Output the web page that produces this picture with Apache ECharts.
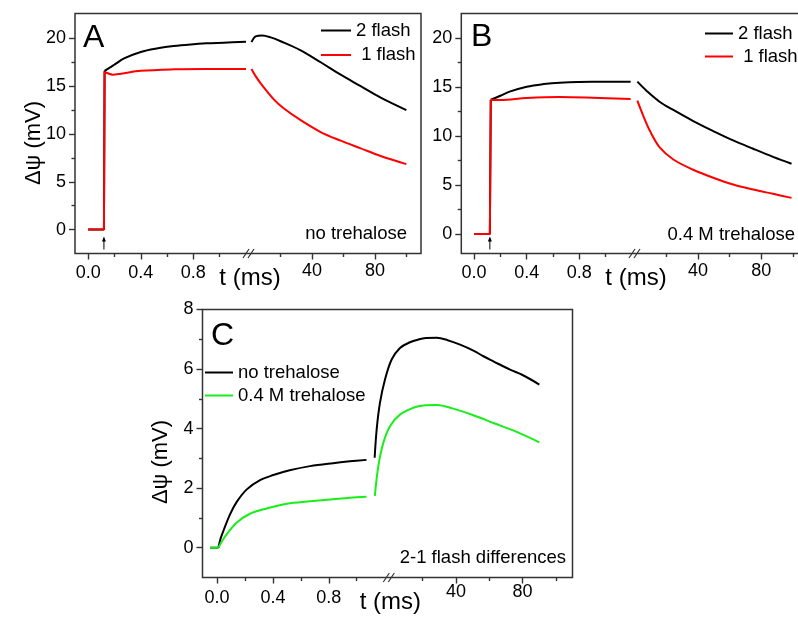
<!DOCTYPE html>
<html><head><meta charset="utf-8">
<script src="https://cdn.jsdelivr.net/npm/echarts@6/dist/echarts.min.js"></script>
<style>html,body{margin:0;padding:0;background:#fff}#c{width:798px;height:618px}</style>
</head><body><div id="c"></div>
<script>
// ---------------- DATA ----------------
// Panel A : no trehalose  (t in ms, Δψ in mV)
const A_t1_2f = [0, 0.12, 0.125, 0.2, 0.273, 0.40, 0.53, 0.65, 0.78, 0.90, 1.03, 1.2];
const A_v1_2f = [0, 0, 16.6, 17.25, 17.9, 18.58, 18.96, 19.2, 19.37, 19.48, 19.55, 19.65];
const A_t1_1f = [0, 0.12, 0.125, 0.15, 0.185, 0.25, 0.40, 0.65, 0.90, 1.2];
const A_v1_1f = [0, 0, 16.5, 16.35, 16.2, 16.3, 16.6, 16.76, 16.8, 16.8];
const A_t2_2f = [1.6, 4.2, 8.5, 13.8, 20.1, 32.8, 45.5, 58.2, 70.9, 83.6, 99.9];
const A_v2_2f = [19.6, 20.2, 20.3, 20.1, 19.7, 18.75, 17.5, 16.2, 15.0, 13.8, 12.5];
const A_t2_1f = [1.6, 4.0, 7.4, 15.9, 22.2, 32.8, 45.5, 58.2, 70.9, 83.6, 99.9];
const A_v2_1f = [16.8, 16.1, 15.3, 13.6, 12.66, 11.44, 10.2, 9.3, 8.5, 7.7, 6.85];

// Panel B : 0.4 M trehalose
const B_t1_2f = [0, 0.12, 0.127, 0.2, 0.27, 0.40, 0.53, 0.65, 0.90, 1.19];
const B_v1_2f = [0, 0, 13.7, 14.1, 14.52, 15.03, 15.3, 15.44, 15.54, 15.54];
const B_t1_1f = [0, 0.12, 0.127, 0.2, 0.40, 0.65, 0.90, 1.19];
const B_v1_1f = [0, 0, 13.67, 13.67, 13.87, 13.97, 13.9, 13.77];
const B_t2_2f = [1.5, 7.4, 15.8, 24.3, 36.9, 49.6, 62.2, 74.9, 87.5, 99.2];
const B_v2_2f = [15.54, 14.6, 13.47, 12.65, 11.52, 10.5, 9.54, 8.69, 7.87, 7.16];
const B_t2_1f = [1.5, 5.3, 9.5, 15.8, 24.3, 36.9, 49.6, 62.2, 74.9, 87.5, 99.2];
const B_v2_1f = [13.6, 12.03, 10.5, 8.8, 7.6, 6.55, 5.73, 5.04, 4.53, 4.09, 3.68];

// Panel C : 2-1 flash differences
const C_t1_no = [-0.05, 0, 0.01, 0.025, 0.045, 0.093, 0.141, 0.213, 0.308, 0.403, 0.52, 0.666, 0.83, 0.95, 1.07];
const C_v1_no = [0, 0, 0, 0.3, 0.56, 1.12, 1.54, 1.96, 2.27, 2.44, 2.6, 2.74, 2.84, 2.9, 2.95];
const C_t1_tr = [-0.05, 0, 0.01, 0.035, 0.069, 0.14, 0.236, 0.356, 0.50, 0.666, 0.83, 0.95, 1.07];
const C_v1_tr = [0, 0, 0, 0.22, 0.45, 0.84, 1.14, 1.32, 1.48, 1.56, 1.63, 1.68, 1.71];
const C_t2_no = [-8.8, -7.6, -5.6, -2.6, 1.4, 6.4, 12.4, 17.4, 22, 28.5, 35, 42.5, 50.5, 56.5, 62.5, 72.5, 80, 90.1];
const C_v2_no = [3.02, 3.97, 4.87, 5.65, 6.32, 6.71, 6.9, 6.99, 7.04, 7.05, 6.97, 6.82, 6.62, 6.43, 6.26, 5.98, 5.8, 5.48];
const C_t2_tr = [-8.7, -6.6, -3.6, 0.4, 6.4, 14.4, 20.4, 28.5, 38.4, 50.5, 62.5, 76.5, 90.1];
const C_v2_tr = [1.74, 2.74, 3.52, 4.08, 4.47, 4.7, 4.78, 4.79, 4.67, 4.45, 4.19, 3.89, 3.54];

// tick values
const X1_LABELS = [0, 0.4, 0.8];
const X1_MINOR = [0.2, 0.6, 1.0];
const X2_LABELS = [40, 80];
const X2_MINOR = [20, 60, 100];
const YAB_LABELS = [0, 5, 10, 15, 20];
const YAB_MINOR = [2.5, 7.5, 12.5, 17.5];
const YC_LABELS = [0, 2, 4, 6, 8];
const YC_MINOR = [1, 3, 5, 7];
const FLASH_T = 0.12;

// ---------------- LAYOUT ----------------
const FONT = "'Liberation Sans', Arial, Helvetica, sans-serif";
const AX = '#333';
const P = {
  A: {left: 75, mid: 249, right: 421, top: 13.5, bottom: 253.5, x1: [-0.1, 1.223], x2: [0, 109.2], y: [-2.5, 22.6]},
  B: {left: 461.3, mid: 635, right: 807, top: 13.5, bottom: 253.5, x1: [-0.097, 1.223], x2: [0, 109], y: [-2, 22.5]},
  C: {left: 202.5, mid: 371, right: 572.5, top: 309.5, bottom: 577.5, x1: [-0.104, 1.102], x2: [-11, 110], y: [-1, 8]}
};

const grids = [], xAxes = [], yAxes = [], series = [];
const idx = {};
const NOLINE = {show: false, onZero: false};
function tickAxis(common, values, len) {
  return Object.assign({}, common, {axisLine: NOLINE, splitLine: {show: false}, axisLabel: {show: false},
    axisTick: {show: true, customValues: values, length: len, inside: false, lineStyle: {color: AX, width: 1.4}}});
}

function addGrid(key, seg, p, yLabels, yMinor, xLabelMargin) {
  const gi = grids.length;
  const left = seg === 1 ? p.left : p.mid;
  const right = seg === 1 ? p.mid : p.right;
  grids.push({left: left, top: p.top, width: right - left, height: p.bottom - p.top,
              containLabel: false, outerBoundsMode: 'none', show: false});
  const xr = seg === 1 ? p.x1 : p.x2;
  const labs = seg === 1 ? X1_LABELS : X2_LABELS;
  const xc = {type: 'value', gridIndex: gi, min: xr[0], max: xr[1], position: 'bottom'};
  const xi = xAxes.length;
  xAxes.push(Object.assign({}, xc, {axisLine: NOLINE, splitLine: {show: false}, axisTick: {show: false},
    axisLabel: {show: true, customValues: labs, margin: xLabelMargin,
      color: '#000', fontSize: 18, fontFamily: FONT,
      formatter: v => seg === 1 ? Number(v).toFixed(1) : String(Math.round(v))}}));
  xAxes.push(tickAxis(xc, labs, 6));
  xAxes.push(tickAxis(xc, seg === 1 ? X1_MINOR : X2_MINOR, 3.5));
  const yc = {type: 'value', gridIndex: gi, min: p.y[0], max: p.y[1], position: 'left'};
  const yi = yAxes.length;
  if (seg === 1) {
    yAxes.push(Object.assign({}, yc, {axisLine: NOLINE, splitLine: {show: false}, axisTick: {show: false},
      axisLabel: {show: true, customValues: yLabels, margin: 9, color: '#000', fontSize: 18, fontFamily: FONT}}));
    yAxes.push(tickAxis(yc, yLabels, 6));
    yAxes.push(tickAxis(yc, yMinor, 3.5));
  } else {
    yAxes.push(Object.assign({}, yc, {show: false, axisLine: NOLINE}));
  }
  idx[key + seg] = {x: xi, y: yi};
}

addGrid('A', 1, P.A, YAB_LABELS, YAB_MINOR, 11);
addGrid('A', 2, P.A, YAB_LABELS, YAB_MINOR, 9);
addGrid('B', 1, P.B, YAB_LABELS, YAB_MINOR, 11);
addGrid('B', 2, P.B, YAB_LABELS, YAB_MINOR, 9);
addGrid('C', 1, P.C, YC_LABELS, YC_MINOR, 12);
addGrid('C', 2, P.C, YC_LABELS, YC_MINOR, 6);

// k: index up to which the trace is a sharp step (drawn unsmoothed)
function line(name, color, key, ts, vs, k) {
  const a = idx[key];
  const pts = ts.map((t, i) => [t, vs[i]]);
  const base = {type: 'line', name: name, xAxisIndex: a.x, yAxisIndex: a.y, showSymbol: false, symbol: 'none',
    lineStyle: {color: color, width: 2}, itemStyle: {color: color}, animation: false, silent: true};
  if (k) series.push(Object.assign({}, base, {data: pts.slice(0, k + 1), smooth: false}));
  series.push(Object.assign({}, base, {data: pts.slice(k || 0), smooth: 0.35}));
}
const BLACK = '#000000', RED = '#ff0000', GREEN = '#1aee1a';
line('2 flash', BLACK, 'A1', A_t1_2f, A_v1_2f, 2);
line('2 flash', BLACK, 'A2', A_t2_2f, A_v2_2f);
line('1 flash', RED, 'A1', A_t1_1f, A_v1_1f, 2);
line('1 flash', RED, 'A2', A_t2_1f, A_v2_1f);
line('2 flash', BLACK, 'B1', B_t1_2f, B_v1_2f, 2);
line('2 flash', BLACK, 'B2', B_t2_2f, B_v2_2f);
line('1 flash', RED, 'B1', B_t1_1f, B_v1_1f, 2);
line('1 flash', RED, 'B2', B_t2_1f, B_v2_1f);
line('no trehalose', BLACK, 'C1', C_t1_no, C_v1_no, 2);
line('no trehalose', BLACK, 'C2', C_t2_no, C_v2_no);
line('0.4 M trehalose', GREEN, 'C1', C_t1_tr, C_v1_tr, 2);
line('0.4 M trehalose', GREEN, 'C2', C_t2_tr, C_v2_tr);

function legend(names, left, top, gap, iw) {
  return {data: names.map(n => ({name: n, icon: 'rect'})), orient: 'vertical', left: left, top: top,
    itemWidth: iw, itemHeight: 2, itemGap: gap, selectedMode: false, padding: 0,
    formatter: n => n === '1 flash' ? ' ' + n : n,
    textStyle: {fontSize: 18.5, fontFamily: FONT, color: '#000', lineHeight: 20}};
}

const chart = echarts.init(document.getElementById('c'), null, {renderer: 'canvas'});
chart.setOption({
  animation: false,
  backgroundColor: '#fff',
  grid: grids, xAxis: xAxes, yAxis: yAxes, series: series,
  legend: [
    legend(['2 flash', '1 flash'], 321, 20.5, 4.5, 30),
    legend(['2 flash', '1 flash'], 705, 23.5, 3, 28),
    legend(['no trehalose', '0.4 M trehalose'], 205, 362.5, 3, 28)
  ]
});

// ---------------- DECORATIONS ----------------
const px = (xi, v) => chart.convertToPixel({xAxisIndex: xi}, v);
const g = [];
function txt(s, x, y, size, align, rot) {
  g.push({type: 'text', x: x, y: y, rotation: rot || 0, silent: true,
    style: {text: s, fill: '#000', fontSize: size, fontFamily: FONT, align: align || 'left', verticalAlign: 'middle'}});
}
['A', 'B', 'C'].forEach(k => {
  const p = P[k];
  g.push({type: 'rect', silent: true, shape: {x: p.left, y: p.top, width: p.right - p.left, height: p.bottom - p.top},
    style: {fill: 'none', stroke: AX, lineWidth: 1.5}});
  const bx = px(idx[k + '2'].x, 0);
  [-3, 2].forEach(d => g.push({type: 'line', silent: true,
    shape: {x1: bx + d - 3, y1: p.bottom + 4.5, x2: bx + d + 3, y2: p.bottom - 4.5},
    style: {stroke: AX, lineWidth: 1.2}}));
  txt('t (ms)', bx + 1, p.bottom + 25, 24, 'center');
});
['A', 'B'].forEach(k => {
  const ax = px(idx[k + '1'].x, FLASH_T);
  const b = P[k].bottom;
  g.push({type: 'line', silent: true, shape: {x1: ax, y1: b - 4, x2: ax, y2: b - 15}, style: {stroke: '#000', lineWidth: 1}});
  g.push({type: 'polygon', silent: true, shape: {points: [[ax - 2, b - 12], [ax, b - 17], [ax + 2, b - 12]]}, style: {fill: '#000'}});
});
txt('A', 83, 38.5, 32);
txt('B', 471, 37.5, 32);
txt('C', 211, 336.5, 32);
txt('no trehalose', 407, 234, 18.5, 'right');
txt('0.4 M trehalose', 795, 234.5, 18.5, 'right');
txt('2-1 flash differences', 566, 558, 18.5, 'right');
txt('Δψ (mV)', 34, 143, 22, 'center', Math.PI / 2);
txt('Δψ (mV)', 161, 462, 22, 'center', Math.PI / 2);
chart.setOption({graphic: {elements: g}});
</script></body></html>
